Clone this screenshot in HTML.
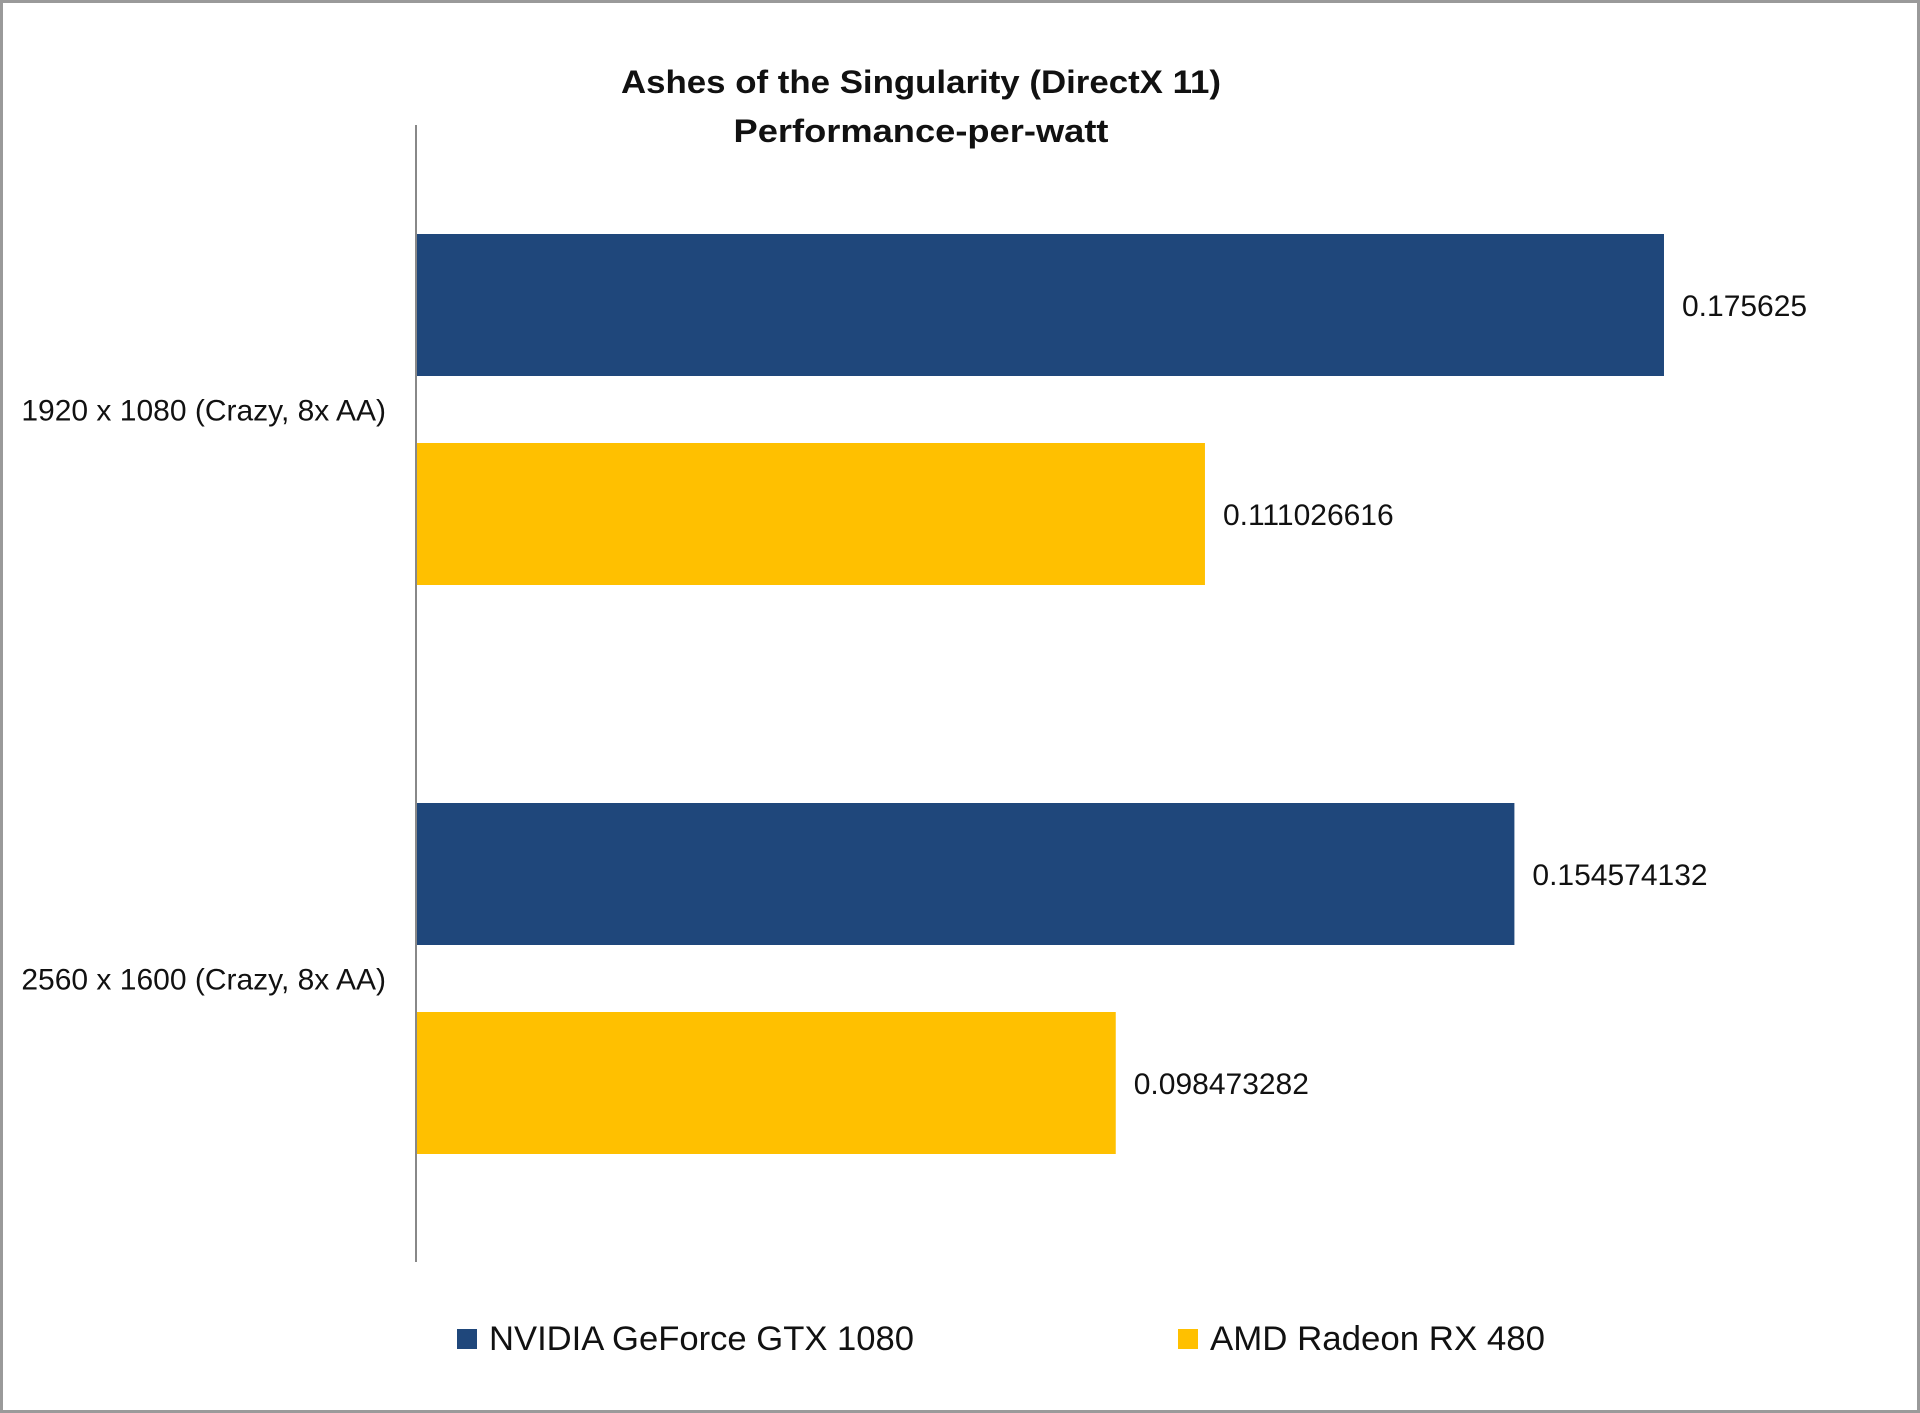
<!DOCTYPE html>
<html><head><meta charset="utf-8"><style>
body{margin:0;width:1920px;height:1413px;overflow:hidden;background:#fff}
svg{display:block}
text{font-family:"Liberation Sans",sans-serif;fill:#111}
</style></head><body>
<svg id="chart" width="1920" height="1413" viewBox="0 0 1920 1413">
<rect x="1.5" y="1.5" width="1917" height="1410" fill="#fff" stroke="#9a9a9a" stroke-width="3"/>
<text x="921" y="93" font-size="32" font-weight="bold" text-anchor="middle" textLength="600" lengthAdjust="spacingAndGlyphs">Ashes of the Singularity (DirectX 11)</text>
<text x="921" y="142" font-size="32" font-weight="bold" text-anchor="middle" textLength="375" lengthAdjust="spacingAndGlyphs">Performance-per-watt</text>
<g id="bars"></g>
<line x1="416" y1="125" x2="416" y2="1262" stroke="#888" stroke-width="2"/>
<g>
<rect x="457" y="1329" width="20" height="20" fill="#1f477b"/>
<text x="489" y="1350" font-size="34" textLength="425" lengthAdjust="spacingAndGlyphs">NVIDIA GeForce GTX 1080</text>
<rect x="1178" y="1329" width="20" height="20" fill="#ffc000"/>
<text x="1210" y="1350" font-size="34" textLength="335" lengthAdjust="spacingAndGlyphs">AMD Radeon RX 480</text>
</g>
</svg>
<script>
const categories = ["1920 x 1080 (Crazy, 8x AA)", "2560 x 1600 (Crazy, 8x AA)"];
const nvidiaValues = [0.175625, 0.154574132];
const amdValues = [0.111026616, 0.098473282];
const nvidiaLabels = ["0.175625", "0.154574132"];
const amdLabels = ["0.111026616", "0.098473282"];

const NS = "http://www.w3.org/2000/svg";
const g = document.getElementById("bars");
const x0 = 416, pxPerUnit = 7106;
const xScale = v => x0 + v * pxPerUnit;
const catTop = [234, 803];
const barH = 142, barGap = 67;
function mk(tag, attrs){const e=document.createElementNS(NS,tag);for(const k in attrs)e.setAttribute(k,attrs[k]);g.appendChild(e);return e;}
categories.forEach((c,i)=>{
  const series=[[nvidiaValues[i],nvidiaLabels[i],"#1f477b","nvidia"],[amdValues[i],amdLabels[i],"#ffc000","amd"]];
  series.forEach((s,j)=>{
    const y = catTop[i] + j*(barH+barGap);
    const r = mk("rect",{x:x0,y:y,width:xScale(s[0])-x0,height:barH,fill:s[2]});
    
    
    const t = mk("text",{x:xScale(s[0])+18,y:y+barH/2+11,"font-size":30});
    t.textContent = s[1];
    
    
  });
  const cl = mk("text",{x:386,y:catTop[i]+barH+barGap/2+11,"font-size":30,"text-anchor":"end"});
  cl.textContent = c;
  
  
});
</script>
</body></html>
